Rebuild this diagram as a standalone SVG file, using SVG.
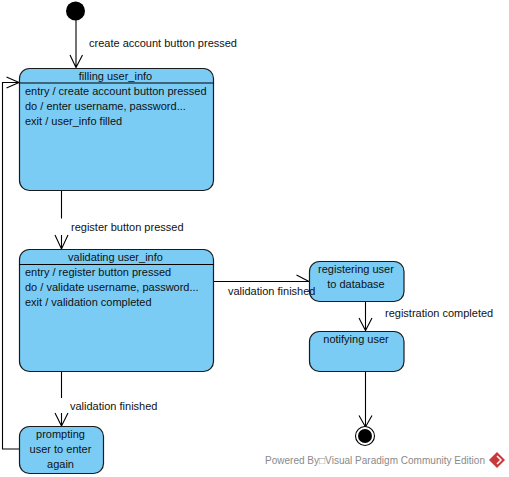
<svg xmlns="http://www.w3.org/2000/svg" width="509" height="477" viewBox="0 0 509 477">
<style>
.st{fill:#7accf5;stroke:#1a1a1a;stroke-width:1.2}
.ln{fill:none;stroke:#000;stroke-width:1.1}
text{font-family:"Liberation Sans",Arial,sans-serif;font-size:11px;fill:#111}
.m{text-anchor:middle}
</style>
<rect width="509" height="477" fill="#fff"/>
<g id="connectors">
<path class="ln" d="M76 20V67.500M70 55L76 67.500L82.500 55"/>
<path class="ln" d="M61.500 190V218.500M61.500 235V249M55 235L61.500 249L68 235"/>
<path class="ln" d="M61.500 371V398M61.500 413V426M55 413L61.500 426L68 413"/>
<path class="ln" d="M19 449H2.500V82.500H18.500M6.500 77L19 82.500L6.500 88"/>
<path class="ln" d="M213 281.500H309M296.500 275L309 281.500"/>
<path class="ln" d="M365.500 301V330.500M359 318L365.500 330.500L372 318"/>
<path class="ln" d="M365.500 371V426M359 415.500L365.500 427L372 415.500"/>
</g>
<g id="start"><circle cx="75.500" cy="11" r="9.500" fill="#000"/></g>
<g id="filling">
<rect class="st" x="19.500" y="68.500" width="194" height="122" rx="10"/>
<path class="ln" d="M19.500 83H213.500"/>
<text class="m" x="115.500" y="80">filling user_info</text>
<text x="25" y="95">entry / create account button pressed</text>
<text x="25" y="110">do / enter username, password...</text>
<text x="25" y="125">exit / user_info filled</text>
</g>
<g id="validating">
<rect class="st" x="19.500" y="249.500" width="194" height="122" rx="10"/>
<path class="ln" d="M19.500 264.500H213.500"/>
<text class="m" x="115.500" y="261">validating user_info</text>
<text x="25" y="276">entry / register button pressed</text>
<text x="25" y="291">do / validate username, password...</text>
<text x="25" y="306">exit / validation completed</text>
</g>
<g id="prompting">
<rect class="st" x="19.500" y="426.500" width="84" height="47" rx="10"/>
<text class="m" x="60.500" y="438">prompting</text>
<text class="m" x="60.500" y="453">user to enter</text>
<text class="m" x="60.500" y="468">again</text>
</g>
<g id="registering">
<rect class="st" x="309.500" y="261.500" width="94.500" height="40" rx="10"/>
<text class="m" x="356" y="273">registering user</text>
<text class="m" x="356" y="288">to database</text>
</g>
<g id="notifying">
<rect class="st" x="309.500" y="331.500" width="94.500" height="40" rx="10"/>
<text class="m" x="356" y="343">notifying user</text>
</g>
<g id="end">
<circle cx="365" cy="436" r="9.500" fill="#fff" stroke="#000" stroke-width="1.100"/>
<circle cx="365" cy="436" r="7" fill="#000"/>
</g>
<g id="labels">
<text x="89" y="47">create account button pressed</text>
<text x="71" y="231">register button pressed</text>
<text x="70" y="410">validation finished</text>
<text x="228" y="295">validation finished</text>
<text x="385" y="317">registration completed</text>
</g>
<g id="watermark">
<text x="265" y="464" textLength="220" lengthAdjust="spacing" style="fill:#8a8a8a;font-size:10px">Powered By□Visual Paradigm Community Edition</text>
<path d="M497 452L505 460L497 468L489 460Z" fill="#c9393b"/>
<path d="M497 456L501 460L497 464" fill="none" stroke="#fff" stroke-width="1.500"/>
</g>
</svg>
